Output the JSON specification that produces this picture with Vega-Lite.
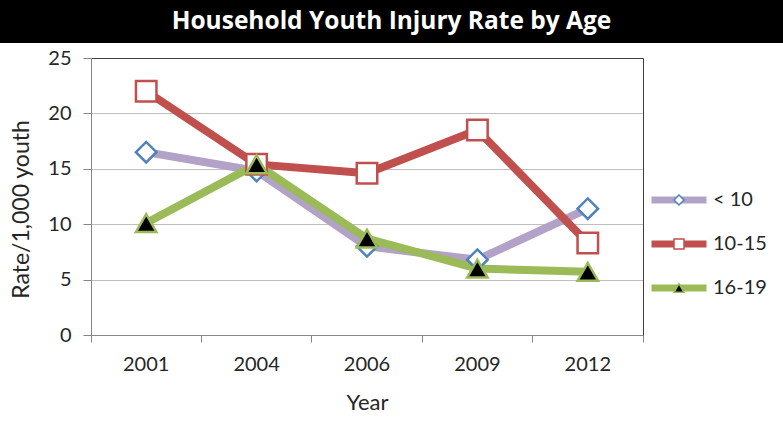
{
  "$schema": "https://vega.github.io/schema/vega-lite/v6.json",
  "padding": 0,
  "background": "white",
  "spacing": 5,
  "config": {"font": "Lato", "view": {"stroke": null}},
  "vconcat": [
    {
      "width": 783,
      "height": 43,
      "view": {"fill": "black", "stroke": null},
      "data": {"values": [{"title": "Household Youth Injury Rate by Age"}]},
      "mark": {
        "type": "text",
        "font": "Open Sans",
        "fontSize": 24.5,
        "fontWeight": "bold",
        "color": "white",
        "align": "center",
        "baseline": "middle"
      },
      "encoding": {"text": {"field": "title", "type": "nominal"}}
    },
    {
      "width": 783,
      "height": 277,
      "data": {
        "values": [
          {"year": "2001", "series": "< 10", "rate": 16.5},
          {"year": "2004", "series": "< 10", "rate": 14.8},
          {"year": "2006", "series": "< 10", "rate": 8.0},
          {"year": "2009", "series": "< 10", "rate": 6.8},
          {"year": "2012", "series": "< 10", "rate": 11.4},
          {"year": "2001", "series": "10-15", "rate": 22.0},
          {"year": "2004", "series": "10-15", "rate": 15.4},
          {"year": "2006", "series": "10-15", "rate": 14.6},
          {"year": "2009", "series": "10-15", "rate": 18.5},
          {"year": "2012", "series": "10-15", "rate": 8.3},
          {"year": "2001", "series": "16-19", "rate": 10.1},
          {"year": "2004", "series": "16-19", "rate": 15.4},
          {"year": "2006", "series": "16-19", "rate": 8.7},
          {"year": "2009", "series": "16-19", "rate": 6.0},
          {"year": "2012", "series": "16-19", "rate": 5.7}
        ]
      },
      "layer": [
        {
          "mark": {
            "type": "line",
            "strokeWidth": 8,
            "strokeCap": "round",
            "strokeJoin": "round"
          },
          "encoding": {
            "x": {
              "field": "year",
              "type": "ordinal",
              "title": "Year",
              "scale": {"type": "band", "paddingInner": 0, "paddingOuter": 0, "range": [91, 643]},
              "axis": {
                "bandPosition": 0,
                "labelAngle": 0,
                "labelFont": "Lato",
                "labelFontSize": 20,
                "labelColor": "#262626",
                "labelPadding": 12,
                "tickSize": 7,
                "tickColor": "#868686",
                "domainColor": "#868686",
                "grid": false,
                "titleFont": "Lato",
                "titleFontSize": 22,
                "titleFontWeight": "normal",
                "titleColor": "#262626",
                "titlePadding": 18,
                "titleX": 367
              }
            },
            "y": {
              "field": "rate",
              "type": "quantitative",
              "title": "Rate/1,000 youth",
              "scale": {"domain": [0, 25]},
              "axis": {
                "offset": -91,
                "values": [0, 5, 10, 15, 20, 25],
                "grid": true,
                "gridColor": {
                  "condition": {"test": "datum.value == 25", "value": "#404040"},
                  "value": "#BFBFBF"
                },
                "tickSize": 8,
                "tickColor": "#868686",
                "domainColor": "#868686",
                "labelFont": "Lato",
                "labelFontSize": 20,
                "labelColor": "#262626",
                "labelPadding": 12,
                "titleFont": "Lato",
                "titleFontSize": 23,
                "titleFontWeight": "normal",
                "titleColor": "#262626",
                "titlePadding": 14,
                "titleY": 151
              }
            },
            "color": {
              "field": "series",
              "type": "nominal",
              "scale": {
                "domain": ["< 10", "10-15", "16-19"],
                "range": ["#B3A2C7", "#C0504D", "#9BBB59"]
              },
              "legend": {
                "title": null,
                "orient": "none",
                "legendX": 648,
                "legendY": 190,
                "symbolType": "stroke",
                "symbolSize": 3025,
                "symbolStrokeWidth": 7,
                "clipHeight": 20,
                "rowPadding": 24,
                "labelFont": "Lato",
                "labelFontSize": 20,
                "labelColor": "#262626",
                "labelOffset": 3,
                "labelLimit": 200
              }
            }
          }
        },
        {
          "mark": {"type": "point", "size": 420, "strokeWidth": 2.5, "opacity": 1},
          "encoding": {
            "x": {
              "field": "year",
              "type": "ordinal",
              "scale": {"type": "band", "paddingInner": 0, "paddingOuter": 0, "range": [91, 643]},
              "axis": {
                "orient": "bottom",
                "values": ["2012"],
                "bandPosition": 1,
                "title": null,
                "labels": false,
                "domain": false,
                "grid": false,
                "tickSize": 7,
                "tickColor": "#868686"
              }
            },
            "y": {
              "field": "rate",
              "type": "quantitative",
              "scale": {"domain": [0, 25]},
              "axis": {
                "orient": "right",
                "offset": -140,
                "title": null,
                "labels": false,
                "ticks": false,
                "grid": false,
                "domainColor": "#404040"
              }
            },
            "shape": {
              "field": "series",
              "type": "nominal",
              "sort": null,
              "scale": {"range": ["diamond", "square", "triangle-up"]},
              "legend": {
                "title": null,
                "orient": "none",
                "legendX": 648,
                "legendY": 190,
                "symbolSize": 100,
                "symbolStrokeWidth": 1.5,
                "symbolOffset": 25,
                "clipHeight": 20,
                "rowPadding": 24,
                "labelExpr": "''"
              }
            },
            "stroke": {
              "field": "series",
              "type": "nominal",
              "sort": null,
              "scale": {"range": ["#4F81BD", "#C0504D", "#9BBB59"]}
            },
            "fill": {
              "field": "series",
              "type": "nominal",
              "sort": null,
              "scale": {"range": ["white", "white", "black"]}
            }
          }
        }
      ],
      "resolve": {"axis": {"x": "independent", "y": "independent"}}
    }
  ]
}
